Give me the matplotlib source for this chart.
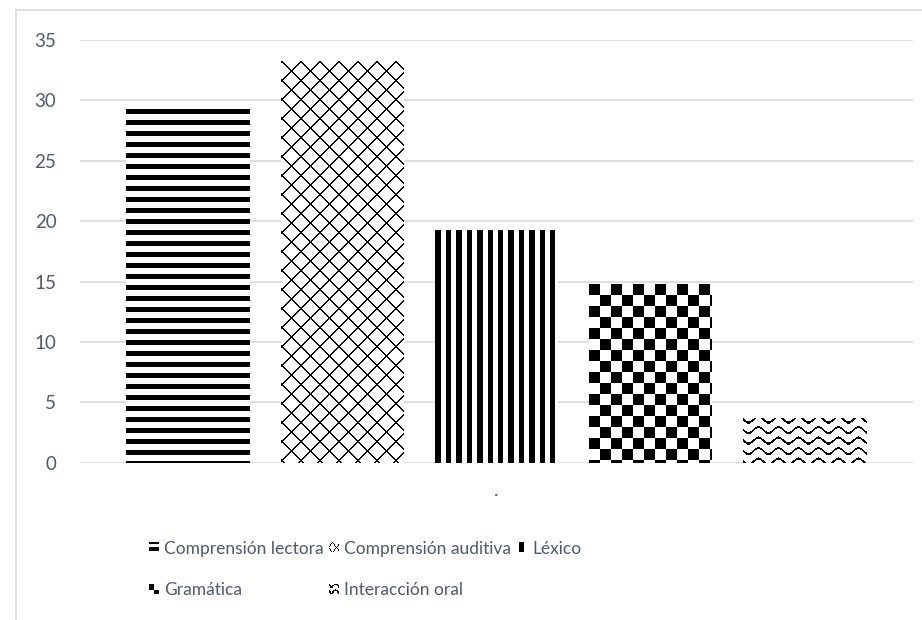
import numpy as np
import matplotlib
matplotlib.use("Agg")
import matplotlib.pyplot as plt
from matplotlib.patches import Rectangle
from matplotlib.legend_handler import HandlerBase
from matplotlib.image import BboxImage
from matplotlib.transforms import Bbox, TransformedBbox

# ---- data ----
categories = ["."]
series = ["Comprensión lectora", "Comprensión auditiva", "Léxico",
          "Gramática", "Interacción oral"]
values = [29.3, 33.3, 19.3, 14.8, 3.7]
y_ticks = [0, 5, 10, 15, 20, 25, 30, 35]

TEXT = "#4e5a6b"
GRID = "#d9dde3"
BORDER = "#d9d9d9"

plt.rcParams["font.family"] = ["Lato", "DejaVu Sans"]


# ---- black/white fill patterns (masks over pixel grids, True = ink) ----
def stripes_h(x, y, period=11, on=5):
    return (y % period) < on


def lattice(x, y, period=19, t=2):
    return ((x + y) % period < t) | ((x - y) % period < t)


def stripes_v(x, y, period=10.4, on=5.5):
    return (x % period) < on


def checker(x, y, size=11):
    return ((x // size) + (y // size)) % 2 == 0


def wave(x, y, px=20, py=10.5, amp=3.0, t=2.2):
    return ((y - amp * np.sin(2 * np.pi * x / px)) % py) < t


def to_rgb(mask):
    v = np.where(mask, 0.0, 1.0)
    return np.dstack([v, v, v])


bar_patterns = [stripes_h, lattice, stripes_v, checker, wave]

# small legend swatches built from the same generators at a smaller scale
sy, sx = np.mgrid[0:8, 0:10]
swatches = [
    to_rgb(stripes_h(sx, sy + 1, period=5, on=3)),
    to_rgb(lattice(sx + 5, sy, period=8, t=1)),
    to_rgb(stripes_v(sx + 18, sy, period=20, on=5)),
    to_rgb(checker(sx, sy, size=5)),
    to_rgb(wave(sx, sy, px=8, py=5, amp=1.2, t=1.3)),
]


class PatternKey(Rectangle):
    def __init__(self, swatch):
        super().__init__((0, 0), 1, 1)
        self.swatch = swatch


class PatternHandler(HandlerBase):
    def create_artists(self, legend, orig_handle, xdescent, ydescent,
                       width, height, fontsize, trans):
        box = TransformedBbox(Bbox.from_bounds(-xdescent, -ydescent, width, height), trans)
        img = BboxImage(box, interpolation="nearest")
        img.set_data(orig_handle.swatch)
        return [img]


# ---- figure ----
W, H = 922, 620
fig = plt.figure(figsize=(W / 100, H / 100), dpi=100)
fig.patch.set_facecolor("white")

ax = fig.add_axes([80 / W, (H - 462.7) / H, 833 / W, 422.7 / H])
ax.set_facecolor("white")

width = 0.16
step = 0.2
offsets = (np.arange(len(series)) - (len(series) - 1) / 2) * step
bars = ax.bar(offsets, values, width, color="white", edgecolor="none", zorder=2)

ax.set_xlim(-0.54, 0.54)
ax.set_ylim(0, 35)
ax.set_yticks(y_ticks)
ax.set_xticks([0])
ax.set_xticklabels(categories)
ax.yaxis.grid(True, color=GRID, linewidth=1.3)
ax.set_axisbelow(True)
for s in ax.spines.values():
    s.set_visible(False)
ax.tick_params(axis="y", length=0, pad=17, labelsize=13.5, labelcolor=TEXT)
ax.tick_params(axis="x", length=0, pad=14, labelsize=13.5, labelcolor=TEXT)

# fill every bar with its pattern, pixel-aligned to the bar's extent
for bar, pat in zip(bars, bar_patterns):
    (x0, y0), (x1, y1) = ax.transData.transform(
        [(bar.get_x(), bar.get_y()),
         (bar.get_x() + bar.get_width(), bar.get_y() + bar.get_height())])
    xo, yo = int(round(x0)), int(round(y0))
    w = int(round(x1)) - xo
    h = int(round(y1)) - yo
    yy, xx = np.mgrid[0:h, 0:w]
    fig.figimage(to_rgb(pat(xx, yy)), xo=xo, yo=yo, origin="upper", zorder=3)

# legend: two rows, filled row by row
keys = [PatternKey(s) for s in swatches]
order = [0, 3, 1, 4, 2]
leg = fig.legend([keys[i] for i in order], [series[i] for i in order],
                 handler_map={PatternKey: PatternHandler()},
                 loc="upper left", bbox_to_anchor=(149 / W, 1 - 541 / H),
                 bbox_transform=fig.transFigure, ncol=3, frameon=False,
                 fontsize=12.5, labelcolor=TEXT, handlelength=0.55,
                 handleheight=0.45, handletextpad=0.3, columnspacing=0.35,
                 labelspacing=1.45, borderpad=0, borderaxespad=0)

# chart-area border
fig.add_artist(Rectangle((15.5 / W, -0.1), 1.5, 1.1 - 10.5 / H,
                         transform=fig.transFigure, fill=False,
                         edgecolor=BORDER, linewidth=1.2))

fig.savefig("out.png", dpi=100)
